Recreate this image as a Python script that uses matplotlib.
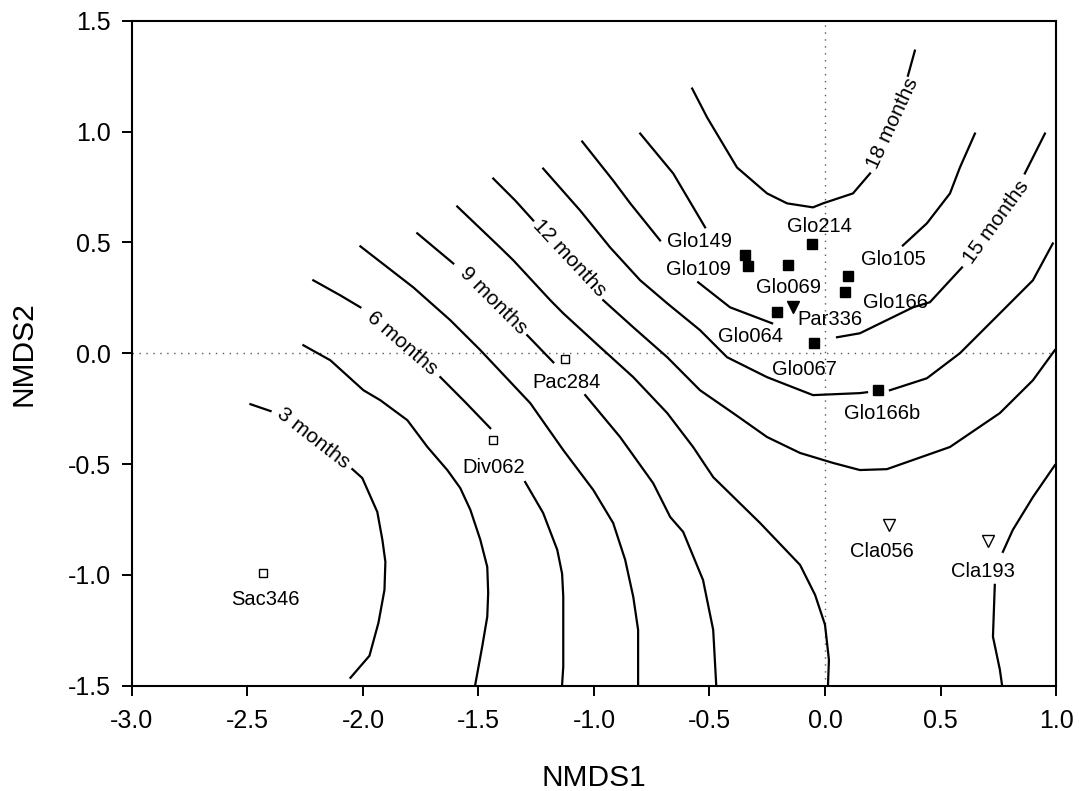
import numpy as np
import matplotlib
matplotlib.use('Agg')
import matplotlib.pyplot as plt

nan = np.nan

# contour lines (nan = gap where a label sits)
m3_x = [-2.487, -2.400, nan, -2.046, -2.003, -1.938, -1.916, -1.903, -1.907, -1.933, -1.972, -2.054]
m3_y = [-0.230, -0.261, nan, -0.523, -0.563, -0.716, -0.842, -0.941, -1.068, -1.216, -1.365, -1.464]

m45_x = [-2.258, -2.141, -1.998, -1.925, -1.808, -1.721, -1.635, -1.579, -1.535, -1.492, -1.462, -1.458, -1.462, -1.484, -1.514]
m45_y = [0.036, -0.032, -0.167, -0.212, -0.302, -0.423, -0.527, -0.608, -0.707, -0.842, -0.964, -1.081, -1.189, -1.324, -1.495]

m6_x = [-2.215, -2.098, -2.011, nan, -1.665, -1.557, -1.449, nan, -1.298, -1.220, -1.159, -1.138, -1.133, -1.133, -1.138]
m6_y = [0.329, 0.261, 0.207, nan, -0.108, -0.221, -0.338, nan, -0.581, -0.721, -0.887, -0.995, -1.099, -1.414, -1.495]

m75_x = [-2.011, -1.782, -1.622, -1.492, -1.276, -1.133, -1.003, -0.917, -0.865, -0.830, -0.809, -0.809]
m75_y = [0.482, 0.297, 0.149, 0.014, -0.225, -0.437, -0.617, -0.766, -0.932, -1.099, -1.248, -1.495]

m9_x = [-1.765, -1.609, nan, -1.289, -1.176, nan, -1.038, -0.887, -0.744, -0.670, -0.614, -0.528, -0.484, -0.471]
m9_y = [0.541, 0.405, nan, 0.081, -0.041, nan, -0.189, -0.378, -0.586, -0.739, -0.806, -1.023, -1.248, -1.495]

m105_x = [-1.592, -1.406, -1.349, -1.189, -1.133, -0.973, -0.830, -0.683, -0.571, -0.484, -0.281, -0.108, -0.043, 0.000, 0.017, 0.013]
m105_y = [0.662, 0.477, 0.419, 0.239, 0.180, 0.027, -0.108, -0.270, -0.423, -0.559, -0.766, -0.955, -1.090, -1.225, -1.383, -1.495]

m12_x = [-1.436, -1.341, -1.263, nan, -0.960, -0.830, -0.683, -0.541, -0.398, -0.251, -0.108, 0.035, 0.151, 0.268, 0.541, 0.757, 0.900, 0.995]
m12_y = [0.788, 0.689, 0.599, nan, 0.239, 0.117, -0.018, -0.167, -0.270, -0.378, -0.450, -0.495, -0.527, -0.523, -0.423, -0.270, -0.122, 0.014]

m135_x = [-1.220, -1.060, -0.930, -0.800, -0.683, -0.541, -0.424, -0.251, -0.052, 0.151, 0.182, nan, 0.281, 0.441, 0.584, 0.757, 0.900, 0.986]
m135_y = [0.833, 0.644, 0.477, 0.329, 0.225, 0.104, -0.018, -0.108, -0.189, -0.180, -0.176, nan, -0.167, -0.113, 0.000, 0.180, 0.329, 0.495]

m15_x = [-1.051, -0.917, -0.843, -0.714, nan, -0.549, -0.411, -0.229, nan, 0.052, 0.151, 0.381, 0.454, 0.593, nan, 0.865, 0.952]
m15_y = [0.955, 0.779, 0.676, 0.509, nan, 0.320, 0.207, 0.135, nan, 0.072, 0.090, 0.207, 0.230, 0.387, nan, 0.811, 0.991]

m165_x = [-0.800, -0.657, -0.519, nan, 0.337, 0.441, 0.541, 0.584, 0.649]
m165_y = [0.991, 0.811, 0.568, nan, 0.486, 0.586, 0.721, 0.838, 0.991]

m18_x = [-0.575, -0.510, -0.381, -0.251, -0.164, -0.052, -0.009, 0.121, 0.195, nan, 0.359, 0.389]
m18_y = [1.194, 1.063, 0.838, 0.721, 0.676, 0.658, 0.676, 0.721, 0.811, nan, 1.252, 1.365]

mbr_x = [0.995, 0.900, 0.813, 0.770, nan, 0.735, 0.727, 0.757, 0.766]
mbr_y = [-0.505, -0.649, -0.797, -0.896, nan, -1.045, -1.279, -1.428, -1.495]

contour_labels = ['3 months', '6 months', '9 months', '12 months', '15 months', '18 months']
contour_label_x = [-2.215, -1.830, -1.436, -1.107, 0.740, 0.294]
contour_label_y = [-0.383, 0.045, 0.239, 0.428, 0.590, 1.036]
contour_label_rot = [-38, -41, -45, -47, 54, 65]

# samples
names = ['Glo149', 'Glo109', 'Glo069', 'Glo214', 'Glo105', 'Glo166', 'Glo064', 'Glo067', 'Glo166b',
         'Par336', 'Sac346', 'Div062', 'Pac284', 'Cla056', 'Cla193']
nmds1 = [-0.346, -0.333, -0.160, -0.056, 0.099, 0.087, -0.208, -0.048, 0.229,
         -0.138, -2.431, -1.436, -1.125, 0.277, 0.705]
nmds2 = [0.441, 0.392, 0.396, 0.491, 0.347, 0.275, 0.185, 0.045, -0.167,
         0.207, -0.991, -0.392, -0.027, -0.775, -0.847]
group = ['fs', 'fs', 'fs', 'fs', 'fs', 'fs', 'fs', 'fs', 'fs',
         'ft', 'os', 'os', 'os', 'ot', 'ot']
label_x = [-0.545, -0.549, -0.160, -0.022, 0.294, 0.307, -0.324, -0.087, 0.247,
           0.022, -2.422, -1.436, -1.120, 0.247, 0.683]
label_y = [0.505, 0.378, 0.297, 0.572, 0.423, 0.230, 0.077, -0.072, -0.270,
           0.153, -1.113, -0.514, -0.131, -0.896, -0.986]

xticks = [-3.0, -2.5, -2.0, -1.5, -1.0, -0.5, 0.0, 0.5, 1.0]
xtick_labels = ['-3.0', '-2.5', '-2.0', '-1.5', '-1.0', '-0.5', '0.0', '0.5', '1.0']
yticks = [-1.5, -1.0, -0.5, 0.0, 0.5, 1.0, 1.5]
ytick_labels = ['-1.5', '-1.0', '-0.5', '0.0', '0.5', '1.0', '1.5']

plt.rcParams['font.family'] = ['Liberation Sans', 'DejaVu Sans']

fig = plt.figure(figsize=(10.79, 7.91), dpi=100)
ax = fig.add_axes([0.1223, 0.1331, 0.8564, 0.8407])

ax.axvline(0, color='0.35', lw=1.0, linestyle=(0, (1, 4)), zorder=1)
ax.axhline(0, color='0.35', lw=1.0, linestyle=(0, (1, 4)), zorder=1)

contours = [(m3_x, m3_y), (m45_x, m45_y), (m6_x, m6_y), (m75_x, m75_y), (m9_x, m9_y),
            (m105_x, m105_y), (m12_x, m12_y), (m135_x, m135_y), (m15_x, m15_y),
            (m165_x, m165_y), (m18_x, m18_y), (mbr_x, mbr_y)]
for cx, cy in contours:
    ax.plot(cx, cy, color='black', lw=1.6, zorder=2)

for i, txt in enumerate(contour_labels):
    ax.text(contour_label_x[i], contour_label_y[i], txt, rotation=contour_label_rot[i],
            ha='center', va='center', fontsize=15, rotation_mode='anchor')

styles = {
    'fs': dict(marker='s', ms=7, mfc='black', mec='black', mew=1),
    'ft': dict(marker='v', ms=8, mfc='black', mec='black', mew=1),
    'os': dict(marker='s', ms=6, mfc='white', mec='black', mew=1),
    'ot': dict(marker='v', ms=8, mfc='white', mec='black', mew=1),
}
for i in range(len(names)):
    ax.plot(nmds1[i], nmds2[i], linestyle='none', zorder=3, **styles[group[i]])
    ax.text(label_x[i], label_y[i], names[i], ha='center', va='center', fontsize=14.5)

ax.set_xlim(-3, 1)
ax.set_ylim(-1.5, 1.5)
ax.set_xticks(xticks)
ax.set_xticklabels(xtick_labels)
ax.set_yticks(yticks)
ax.set_yticklabels(ytick_labels)
ax.tick_params(direction='out', length=7, width=1.4, labelsize=18, top=False, right=False)
ax.tick_params(axis='x', pad=10)
ax.tick_params(axis='y', pad=8)
for s in ax.spines.values():
    s.set_linewidth(1.5)

ax.set_xlabel('NMDS1', fontsize=21.5)
ax.set_ylabel('NMDS2', fontsize=21.5)
ax.xaxis.set_label_coords(0.5, -0.139)
ax.xaxis.label.set_va('center')
ax.yaxis.set_label_coords(-0.117, 0.5)
ax.yaxis.label.set_va('center')

fig.savefig('out.png', dpi=100)
